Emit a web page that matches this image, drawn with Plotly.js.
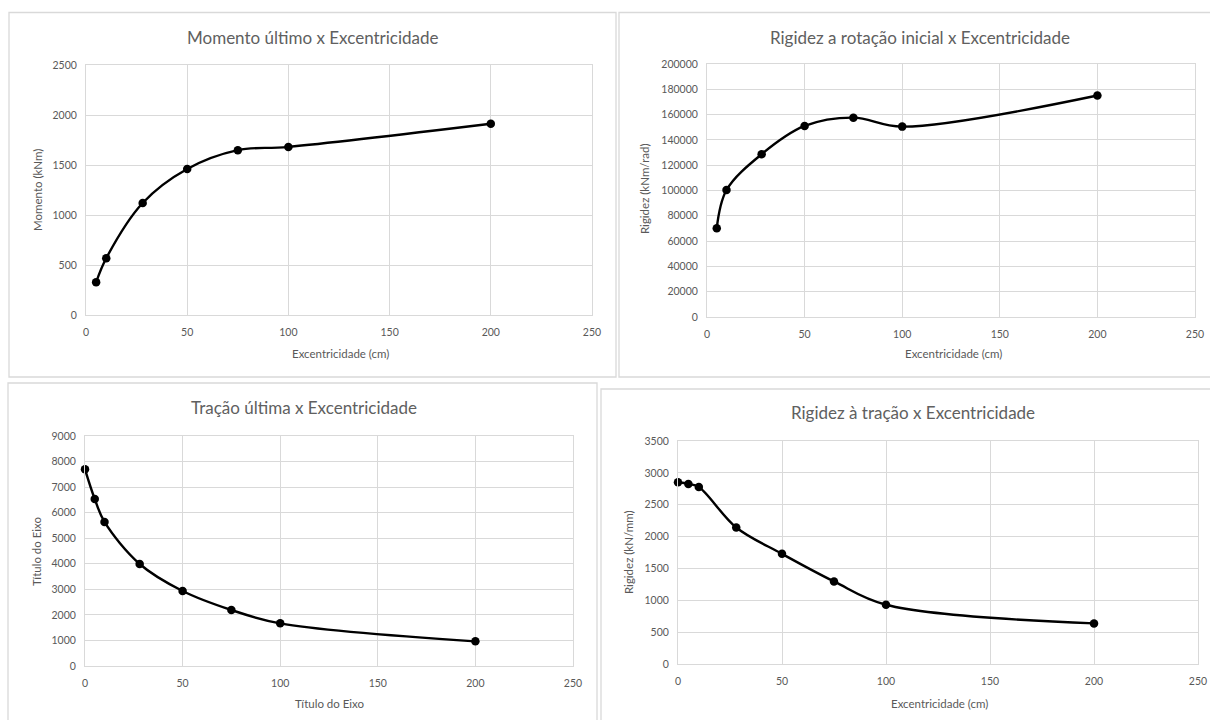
<!DOCTYPE html>
<html>
<head>
<meta charset="utf-8">
<script src="https://cdn.plot.ly/plotly-3.0.1.min.js"></script>
<style>
  html, body { margin: 0; padding: 0; background: #ffffff; }
  #chart { width: 1210px; height: 720px; }
</style>
</head>
<body>
<div id="chart"></div>
<script>
// ---- Data ----
const momentoX = [5, 10, 28, 50, 75, 100, 200];
const momentoY = [327, 568, 1120, 1460, 1648, 1681, 1912];

const rigRotX = [5, 10, 28, 50, 75, 100, 200];
const rigRotY = [70200, 100400, 128700, 151000, 157600, 150500, 175100];

const tracaoX = [0, 5, 10, 28, 50, 75, 100, 200];
const tracaoY = [7696, 6535, 5635, 3991, 2935, 2191, 1670, 965];

const rigTraX = [0, 5, 10, 28, 50, 75, 100, 200];
const rigTraY = [2852, 2826, 2779, 2142, 1729, 1296, 930, 637];

const titles = [
  "Momento último x Excentricidade",
  "Rigidez a rotação inicial x Excentricidade",
  "Tração última x Excentricidade",
  "Rigidez à tração x Excentricidade"
];
const xTitles = ["Excentricidade (cm)", "Excentricidade (cm)", "Título do Eixo", "Excentricidade (cm)"];
const yTitles = ["Momento (kNm)", "Rigidez (kNm/rad)", "Título do Eixo", "Rigidez (kN/mm)"];

// ---- Layout helpers ----
const W = 1210, H = 720;
const px = v => v / W;
const py = v => 1 - v / H;
const FONT = "Lato, 'Open Sans', sans-serif";
const GRAY = "#595959";
const GRID = "#d9d9d9";

function trace(x, y, n) {
  const s = n === 1 ? "" : String(n);
  return {
    x: x, y: y, type: "scatter", mode: "lines+markers",
    xaxis: "x" + s, yaxis: "y" + s,
    line: { color: "#000000", width: 2.4, shape: "spline", smoothing: 1 },
    marker: { color: "#000000", size: 8.5 },
    cliponaxis: false,
    hoverinfo: "x+y", showlegend: false
  };
}

// plot-area pixel boxes [left, right, top, bottom]
const boxes = [
  [86, 592, 65, 315],
  [707, 1195, 64, 317],
  [85, 573, 436, 666],
  [678, 1198, 441, 664]
];
const yRanges = [[0, 2500], [0, 200000], [0, 9000], [0, 3500]];
const yDtick = [500, 20000, 1000, 500];

const layout = {
  width: W, height: H,
  margin: { l: 0, r: 0, t: 0, b: 0 },
  paper_bgcolor: "#ffffff", plot_bgcolor: "#ffffff",
  font: { family: FONT, color: GRAY },
  showlegend: false,
  annotations: [],
  shapes: []
};

boxes.forEach((b, i) => {
  const s = i === 0 ? "" : String(i + 1);
  layout["xaxis" + s] = {
    domain: [px(b[0]), px(b[1])],
    anchor: "y" + s,
    range: [0, 250], dtick: 50, tick0: 0,
    showgrid: true, gridcolor: GRID, gridwidth: 1,
    zeroline: false, showline: true, linecolor: GRID, linewidth: 1, mirror: true,
    ticks: "outside", ticklen: 7, tickcolor: "rgba(0,0,0,0)",
    tickfont: { family: FONT, size: 10.5, color: GRAY },
    fixedrange: true
  };
  layout["yaxis" + s] = {
    domain: [py(b[3]), py(b[2])],
    anchor: "x" + s,
    range: yRanges[i], dtick: yDtick[i], tick0: 0,
    tickformat: "d",
    showgrid: true, gridcolor: GRID, gridwidth: 1,
    zeroline: false, showline: true, linecolor: GRID, linewidth: 1, mirror: true,
    ticks: "outside", ticklen: 6, tickcolor: "rgba(0,0,0,0)",
    tickfont: { family: FONT, size: 10.5, color: GRAY },
    fixedrange: true
  };
});

// Titles and axis titles as annotations (pixel-placed)
const titlePos = [[313, 37], [920, 37], [304, 407], [913, 412]];
const xTitlePos = [[340, 353], [953, 353], [330, 703], [939, 703]];
const yTitlePos = [[38, 190], [645, 189], [36, 551], [628, 552]];

titles.forEach((t, i) => {
  layout.annotations.push({
    text: t, xref: "paper", yref: "paper",
    x: px(titlePos[i][0]), y: py(titlePos[i][1]),
    xanchor: "center", yanchor: "middle", showarrow: false,
    font: { family: FONT, size: 17, color: "#606060" }
  });
  layout.annotations.push({
    text: xTitles[i], xref: "paper", yref: "paper",
    x: px(xTitlePos[i][0]), y: py(xTitlePos[i][1]),
    xanchor: "center", yanchor: "middle", showarrow: false,
    font: { family: FONT, size: 11.5, color: GRAY }
  });
  layout.annotations.push({
    text: yTitles[i], xref: "paper", yref: "paper",
    x: px(yTitlePos[i][0]), y: py(yTitlePos[i][1]),
    xanchor: "center", yanchor: "middle", showarrow: false, textangle: -90,
    font: { family: FONT, size: 11.5, color: GRAY }
  });
});

// Panel borders
const panels = [
  [9, 616, 12.5, 377],
  [619, 1216, 12.5, 377],
  [8, 597, 383, 726],
  [601, 1216, 389, 726]
];
panels.forEach(p => {
  layout.shapes.push({
    type: "rect", xref: "paper", yref: "paper",
    x0: px(p[0]), x1: px(p[1]), y0: py(p[3]), y1: py(p[2]),
    line: { color: "#d9d9d9", width: 1.3 }, fillcolor: "rgba(0,0,0,0)", layer: "below"
  });
});

const data = [
  trace(momentoX, momentoY, 1),
  trace(rigRotX, rigRotY, 2),
  trace(tracaoX, tracaoY, 3),
  trace(rigTraX, rigTraY, 4)
];

Plotly.newPlot("chart", data, layout, { displayModeBar: false, staticPlot: true });
</script>
</body>
</html>
